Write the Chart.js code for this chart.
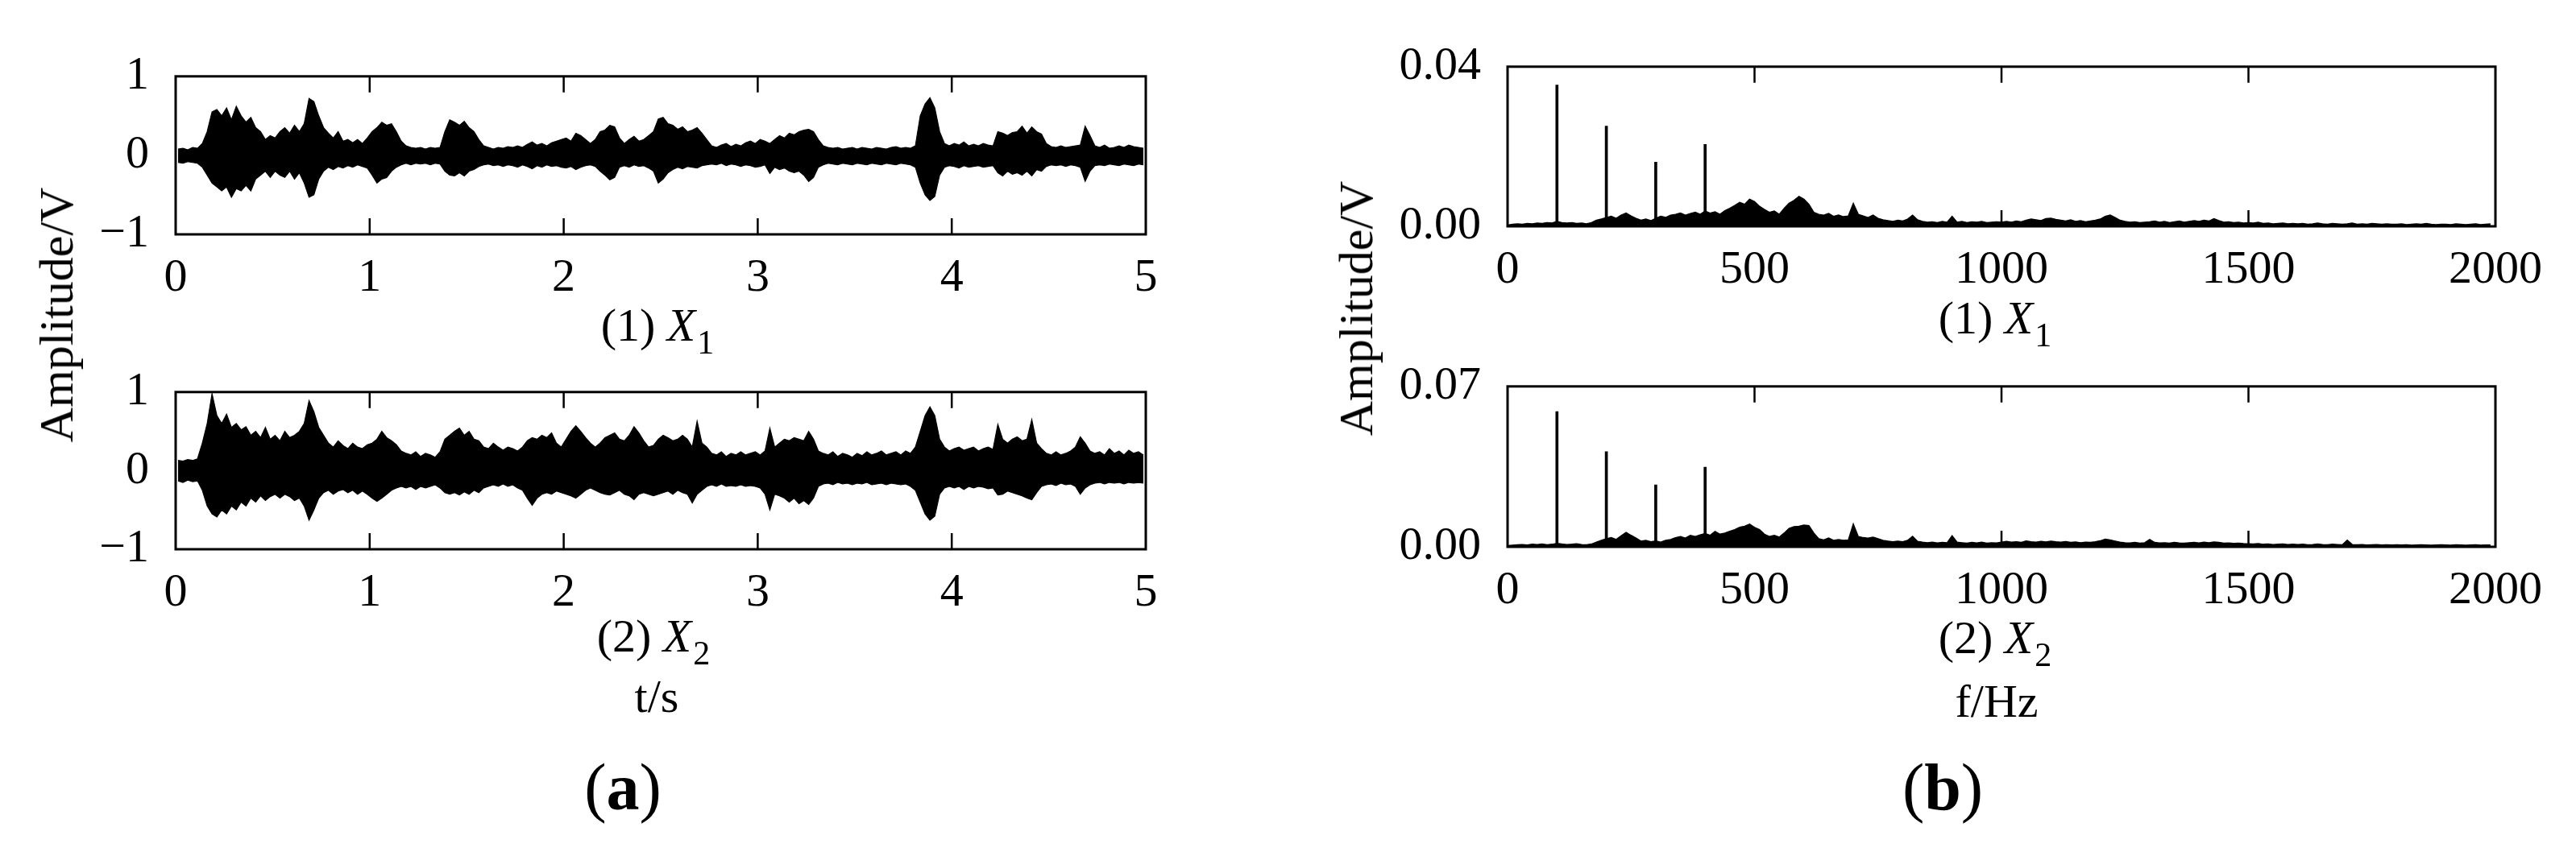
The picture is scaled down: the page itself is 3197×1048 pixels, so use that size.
<!DOCTYPE html>
<html>
<head>
<meta charset="utf-8">
<script src="https://cdn.jsdelivr.net/npm/chart.js@4.4.0/dist/chart.umd.min.js"></script>
<style>
body { margin: 0; background: #fff; width: 3197px; height: 1048px; overflow: hidden; position: relative; font-family: 'Liberation Serif', 'Times New Roman', serif; color: #000; }
canvas { position: absolute; }
.t { position: absolute; white-space: nowrap; font-size: 58px; line-height: 58px; height: 58px; transform: translate(-50%, -50%); }
.sub { font-size: 42px; position: relative; top: 16px; margin-left: 2px; }
.yl { position: absolute; white-space: nowrap; font-size: 60px; line-height: 60px; height: 60px; transform: translate(-50%, -50%) rotate(-90deg); }
.pl { position: absolute; white-space: nowrap; font-size: 82px; line-height: 82px; height: 82px; transform: translate(-50%, -50%); }
</style>
</head>
<body>
<canvas id="c1" width="1400" height="356" style="left:100px;top:35px"></canvas>
<canvas id="c2" width="1400" height="355" style="left:100px;top:427px"></canvas>
<canvas id="c3" width="1476" height="358" style="left:1711px;top:23px"></canvas>
<canvas id="c4" width="1476" height="359" style="left:1711px;top:420px"></canvas>

<div class="yl" style="left:70px;top:391px">Amplitude/V</div>
<div class="t" style="left:816px;top:404px">(1) <i>X</i><span class="sub">1</span></div>
<div class="t" style="left:811px;top:790px">(2) <i>X</i><span class="sub">2</span></div>
<div class="t" style="left:815px;top:865px">t/s</div>
<div class="pl" style="left:773px;top:978px">(<b>a</b>)</div>

<div class="yl" style="left:1683px;top:383px">Amplitude/V</div>
<div class="t" style="left:2476px;top:395px">(1) <i>X</i><span class="sub">1</span></div>
<div class="t" style="left:2476px;top:792px">(2) <i>X</i><span class="sub">2</span></div>
<div class="t" style="left:2478px;top:871px">f/Hz</div>
<div class="pl" style="left:2411px;top:978px">(<b>b</b>)</div>

<script>
// time signals, envelope read per 0.025 s
var timeStep = 0.025;
var timeTicks = [0, 1, 2, 3, 4, 5];
var ampTicks = [-1, 0, 1];

var x1Upper = [
  0.08,0.09,0.07,0.10,0.09,0.15,0.30,0.55,0.58,0.50,
  0.60,0.45,0.62,0.50,0.42,0.48,0.35,0.30,0.20,0.25,
  0.22,0.30,0.35,0.28,0.38,0.30,0.40,0.72,0.68,0.50,
  0.35,0.28,0.22,0.30,0.18,0.20,0.16,0.20,0.15,0.22,
  0.30,0.35,0.42,0.38,0.40,0.30,0.18,0.12,0.10,0.09,
  0.10,0.08,0.10,0.09,0.10,0.30,0.45,0.42,0.38,0.43,
  0.35,0.30,0.20,0.12,0.10,0.08,0.10,0.09,0.11,0.10,
  0.12,0.10,0.14,0.17,0.13,0.15,0.12,0.16,0.18,0.20,
  0.22,0.18,0.28,0.25,0.20,0.15,0.20,0.30,0.32,0.38,
  0.36,0.22,0.15,0.20,0.24,0.18,0.20,0.25,0.30,0.46,
  0.48,0.40,0.38,0.33,0.36,0.30,0.32,0.35,0.28,0.20,
  0.12,0.10,0.13,0.15,0.11,0.14,0.12,0.16,0.18,0.15,
  0.20,0.18,0.15,0.20,0.25,0.22,0.28,0.26,0.30,0.32,
  0.33,0.30,0.20,0.12,0.10,0.09,0.10,0.08,0.09,0.10,
  0.08,0.10,0.09,0.08,0.10,0.09,0.08,0.10,0.11,0.09,
  0.10,0.09,0.12,0.50,0.65,0.73,0.60,0.30,0.15,0.12,
  0.15,0.13,0.17,0.12,0.14,0.12,0.15,0.13,0.12,0.30,
  0.28,0.25,0.29,0.30,0.37,0.28,0.36,0.30,0.27,0.15,
  0.11,0.10,0.12,0.10,0.11,0.12,0.13,0.37,0.25,0.12,
  0.10,0.13,0.09,0.10,0.12,0.10,0.13,0.11,0.10,0.09
];
var x1Lower = [
  -0.09,-0.10,-0.08,-0.09,-0.10,-0.15,-0.25,-0.35,-0.40,-0.45,
  -0.40,-0.53,-0.42,-0.45,-0.38,-0.45,-0.30,-0.25,-0.20,-0.28,
  -0.20,-0.25,-0.28,-0.20,-0.30,-0.22,-0.35,-0.53,-0.50,-0.30,
  -0.20,-0.15,-0.18,-0.14,-0.16,-0.13,-0.15,-0.12,-0.14,-0.16,
  -0.25,-0.35,-0.30,-0.28,-0.20,-0.15,-0.12,-0.10,-0.12,-0.10,
  -0.11,-0.10,-0.12,-0.10,-0.11,-0.20,-0.25,-0.26,-0.22,-0.26,
  -0.20,-0.18,-0.14,-0.12,-0.11,-0.13,-0.12,-0.14,-0.12,-0.13,
  -0.15,-0.12,-0.14,-0.17,-0.13,-0.15,-0.12,-0.14,-0.13,-0.15,
  -0.16,-0.14,-0.18,-0.15,-0.13,-0.12,-0.14,-0.20,-0.25,-0.31,
  -0.28,-0.15,-0.13,-0.15,-0.12,-0.14,-0.13,-0.16,-0.20,-0.35,
  -0.30,-0.22,-0.18,-0.15,-0.17,-0.14,-0.15,-0.16,-0.13,-0.12,
  -0.11,-0.12,-0.10,-0.13,-0.11,-0.12,-0.14,-0.12,-0.13,-0.15,
  -0.14,-0.12,-0.23,-0.15,-0.18,-0.16,-0.20,-0.22,-0.20,-0.25,
  -0.33,-0.28,-0.15,-0.12,-0.10,-0.11,-0.12,-0.10,-0.11,-0.12,
  -0.10,-0.11,-0.12,-0.10,-0.11,-0.12,-0.10,-0.11,-0.12,-0.10,
  -0.11,-0.12,-0.15,-0.35,-0.50,-0.57,-0.52,-0.25,-0.15,-0.13,
  -0.14,-0.16,-0.13,-0.15,-0.14,-0.13,-0.15,-0.14,-0.13,-0.22,
  -0.26,-0.20,-0.24,-0.22,-0.25,-0.20,-0.26,-0.18,-0.20,-0.14,
  -0.12,-0.13,-0.12,-0.14,-0.12,-0.13,-0.15,-0.33,-0.20,-0.13,
  -0.12,-0.13,-0.11,-0.12,-0.13,-0.11,-0.12,-0.13,-0.11,-0.12
];
var x2Upper = [
  0.13,0.12,0.14,0.13,0.15,0.35,0.60,0.98,0.70,0.60,
  0.72,0.55,0.60,0.52,0.56,0.45,0.50,0.42,0.55,0.40,
  0.45,0.38,0.50,0.42,0.45,0.50,0.60,0.89,0.75,0.55,
  0.45,0.35,0.30,0.38,0.32,0.28,0.35,0.30,0.28,0.33,
  0.35,0.40,0.50,0.42,0.38,0.33,0.25,0.22,0.20,0.24,
  0.18,0.22,0.20,0.17,0.24,0.40,0.45,0.50,0.54,0.45,
  0.50,0.40,0.38,0.30,0.28,0.35,0.30,0.26,0.30,0.28,
  0.25,0.30,0.38,0.42,0.40,0.45,0.42,0.48,0.35,0.30,
  0.40,0.50,0.57,0.50,0.42,0.35,0.30,0.35,0.42,0.45,
  0.48,0.40,0.38,0.45,0.56,0.48,0.38,0.30,0.32,0.40,
  0.45,0.42,0.38,0.40,0.45,0.40,0.30,0.63,0.35,0.30,
  0.22,0.20,0.24,0.18,0.22,0.20,0.24,0.20,0.22,0.24,
  0.20,0.25,0.54,0.30,0.35,0.40,0.38,0.42,0.40,0.38,
  0.50,0.40,0.25,0.22,0.20,0.24,0.18,0.22,0.20,0.17,
  0.22,0.19,0.24,0.20,0.22,0.25,0.20,0.22,0.24,0.20,
  0.25,0.22,0.30,0.50,0.70,0.81,0.70,0.40,0.30,0.25,
  0.28,0.30,0.26,0.28,0.30,0.25,0.28,0.30,0.27,0.59,
  0.40,0.35,0.40,0.43,0.38,0.40,0.65,0.35,0.28,0.22,
  0.20,0.24,0.20,0.22,0.25,0.30,0.43,0.35,0.25,0.22,
  0.24,0.20,0.28,0.22,0.25,0.20,0.26,0.22,0.24,0.20
];
var x2Lower = [
  -0.13,-0.15,-0.12,-0.14,-0.13,-0.25,-0.45,-0.55,-0.59,-0.50,
  -0.55,-0.45,-0.50,-0.40,-0.45,-0.35,-0.40,-0.32,-0.38,-0.33,
  -0.30,-0.35,-0.30,-0.33,-0.38,-0.35,-0.45,-0.63,-0.50,-0.35,
  -0.28,-0.25,-0.30,-0.26,-0.24,-0.28,-0.25,-0.30,-0.26,-0.30,
  -0.35,-0.39,-0.35,-0.30,-0.25,-0.22,-0.20,-0.22,-0.20,-0.24,
  -0.20,-0.22,-0.20,-0.18,-0.22,-0.28,-0.30,-0.28,-0.31,-0.27,
  -0.30,-0.25,-0.28,-0.22,-0.20,-0.18,-0.20,-0.17,-0.20,-0.18,
  -0.22,-0.25,-0.35,-0.44,-0.35,-0.30,-0.28,-0.30,-0.26,-0.28,
  -0.30,-0.32,-0.35,-0.30,-0.25,-0.22,-0.25,-0.28,-0.30,-0.31,
  -0.28,-0.25,-0.30,-0.32,-0.37,-0.30,-0.28,-0.30,-0.32,-0.30,
  -0.28,-0.26,-0.30,-0.25,-0.28,-0.30,-0.41,-0.30,-0.25,-0.20,
  -0.18,-0.20,-0.17,-0.20,-0.19,-0.20,-0.18,-0.20,-0.19,-0.20,
  -0.22,-0.30,-0.50,-0.30,-0.32,-0.35,-0.40,-0.35,-0.42,-0.38,
  -0.43,-0.35,-0.20,-0.17,-0.16,-0.18,-0.15,-0.17,-0.16,-0.18,
  -0.16,-0.17,-0.15,-0.18,-0.17,-0.16,-0.18,-0.16,-0.17,-0.18,
  -0.17,-0.20,-0.25,-0.40,-0.55,-0.63,-0.58,-0.30,-0.22,-0.20,
  -0.22,-0.20,-0.24,-0.20,-0.22,-0.20,-0.21,-0.23,-0.22,-0.31,
  -0.30,-0.26,-0.28,-0.30,-0.32,-0.35,-0.37,-0.28,-0.20,-0.18,
  -0.17,-0.19,-0.16,-0.18,-0.17,-0.20,-0.30,-0.22,-0.18,-0.16,
  -0.15,-0.17,-0.15,-0.16,-0.15,-0.17,-0.15,-0.16,-0.15,-0.16
];

// spectra, read per 10 Hz, in mV
var freqStep = 10;
var freqTicks = [0, 500, 1000, 1500, 2000];
var spec1Ticks = [0, 0.04];
var spec2Ticks = [0, 0.07];

var x1SpecMv = [
  0.3,0.5,0.6,0.5,0.7,0.6,0.8,0.7,0.9,0.8,
  1.2,0.9,0.8,0.9,0.7,0.8,0.6,0.9,1.5,1.8,
  2.2,2.5,2.0,2.8,3.3,2.6,2.0,1.5,1.8,1.4,
  2.0,2.5,2.2,2.8,3.0,3.3,2.8,3.2,3.5,3.0,
  3.8,3.3,3.6,3.0,3.9,4.5,5.2,6.0,5.5,6.8,
  6.2,5.0,4.2,3.5,3.8,3.0,4.5,5.8,6.5,7.5,
  6.8,5.5,3.5,3.0,2.8,3.2,2.5,2.8,2.4,2.6,
  5.7,3.0,2.6,2.2,2.8,2.0,1.6,1.4,1.2,1.5,
  1.3,1.8,2.8,1.6,1.2,1.0,1.1,0.9,1.2,1.0,
  2.5,1.0,1.2,0.9,1.1,1.0,1.2,0.9,1.0,1.1,
  1.0,1.2,1.0,1.3,1.1,1.5,1.8,1.6,1.4,1.9,
  2.0,1.7,1.5,1.3,1.6,1.2,1.4,1.1,1.3,1.5,
  1.8,2.5,2.8,2.2,1.5,1.2,1.0,1.1,0.9,1.0,
  1.1,1.3,1.0,1.2,0.9,1.1,1.3,1.0,1.2,1.4,
  1.2,1.5,1.3,1.9,1.4,1.0,1.1,0.9,1.0,0.8,
  0.9,0.8,1.0,0.7,0.8,0.6,0.7,0.8,0.6,0.7,
  0.6,0.7,0.5,0.6,0.8,0.6,0.5,0.7,0.6,0.5,
  0.6,0.8,0.5,0.6,0.5,0.7,0.6,0.5,0.6,0.5,
  0.5,0.6,0.4,0.5,0.6,0.5,0.7,0.5,0.4,0.5,
  0.5,0.4,0.6,0.5,0.4,0.5,0.6,0.4,0.5,0.6
];
var x2SpecMv = [
  0.5,0.7,0.9,1.0,0.8,1.1,1.0,1.2,0.9,1.1,
  1.5,1.2,1.0,1.1,1.3,1.0,0.9,1.2,2.0,2.8,
  3.5,4.0,3.2,4.8,6.3,5.0,3.8,2.5,2.8,2.2,
  2.5,2.0,2.8,3.2,4.0,4.5,3.8,5.0,4.5,5.2,
  5.8,5.0,6.7,5.5,6.0,6.8,7.5,8.5,9.0,9.9,
  8.5,7.5,5.5,4.5,5.0,4.2,6.0,8.0,8.8,9.0,
  9.5,9.2,6.0,3.5,3.0,3.8,2.8,3.2,2.8,3.0,
  9.9,4.5,4.0,3.8,4.2,3.5,2.8,2.5,2.2,2.5,
  2.2,2.8,4.6,2.4,2.0,1.8,2.0,1.7,1.9,1.8,
  4.8,2.0,1.8,1.6,1.9,1.7,2.0,1.6,1.8,1.7,
  2.0,2.4,2.0,2.2,1.9,2.5,2.2,2.0,2.4,2.1,
  2.5,2.2,2.0,2.3,1.9,2.1,1.8,2.0,1.9,2.2,
  2.6,3.3,3.0,2.5,2.0,1.8,1.7,1.9,1.6,1.8,
  3.2,1.9,1.7,1.8,1.6,1.9,1.7,1.6,1.8,1.9,
  1.7,2.0,1.8,2.1,1.9,1.6,1.7,1.5,1.6,1.4,
  1.3,1.2,1.4,1.1,1.2,1.0,1.1,1.2,1.0,1.1,
  1.0,1.1,0.9,1.0,1.2,1.0,0.9,1.1,1.0,0.9,
  2.9,1.0,0.9,1.0,0.8,0.9,1.0,0.8,0.9,0.8,
  0.9,0.8,0.9,0.7,0.8,0.9,0.8,0.7,0.8,0.9,
  0.8,0.7,0.9,0.8,0.7,0.8,0.9,0.7,0.8,0.8
];
var harmonicFreqs = [100, 200, 300, 400];
var x1Harmonics = [0.0354, 0.0251, 0.0161, 0.0205];
var x2Harmonics = [0.0590, 0.0415, 0.0270, 0.0348];

Chart.defaults.font.family = "'Liberation Serif', 'Times New Roman', serif";
Chart.defaults.color = '#000';

function timePoints(values) {
  return values.map(function(v, i) {
    return {x: (i + 0.5) * timeStep, y: v};
  });
}

function spectrum(valuesMv) {
  return valuesMv.map(function(v, i) {
    return {x: i * freqStep, y: v / 1000};
  });
}

function harmonics(amps) {
  return harmonicFreqs.map(function(f, k) {
    return {x: f, y: amps[k]};
  });
}

// box round the plot and inward x ticks on top and bottom
var framePlugin = {
  id: 'frame',
  afterDatasetsDraw: function(chart) {
    var a = chart.chartArea;
    var ctx = chart.ctx;
    var xs = chart.scales.x;
    ctx.save();
    ctx.strokeStyle = '#000';
    ctx.lineWidth = 2.5;
    xs.ticks.forEach(function(t, k) {
      if (k === 0 || k === xs.ticks.length - 1) return;
      var px = xs.getPixelForValue(t.value);
      ctx.beginPath();
      ctx.moveTo(px, a.top);
      ctx.lineTo(px, a.top + 20);
      ctx.moveTo(px, a.bottom);
      ctx.lineTo(px, a.bottom - 20);
      ctx.stroke();
    });
    ctx.lineWidth = 3;
    ctx.strokeRect(a.left, a.top, a.right - a.left, a.bottom - a.top);
    ctx.restore();
  }
};

function makeChart(id, datasets, xMax, xTicks, yMin, yMax, yTicks, yFormat, yWidth, padRight) {
  var ctx = document.getElementById(id).getContext('2d');
  return new Chart(ctx, {
    type: 'line',
    data: { datasets: datasets },
    options: {
      animation: false,
      responsive: false,
      events: [],
      layout: { padding: { top: 45, right: padRight, bottom: 0, left: 0 } },
      plugins: { legend: { display: false }, tooltip: { enabled: false } },
      scales: {
        x: {
          type: 'linear',
          min: 0,
          max: xMax,
          offset: false,
          grid: { display: false },
          border: { display: false },
          afterBuildTicks: function(s) { s.ticks = xTicks.map(function(v) { return {value: v}; }); },
          afterFit: function(s) { s.height = 100; },
          ticks: {
            font: { size: 58 },
            padding: 12,
            maxRotation: 0,
            autoSkip: false,
            callback: function(v) { return String(v); }
          }
        },
        y: {
          min: yMin,
          max: yMax,
          grid: { display: false },
          border: { display: false },
          afterBuildTicks: function(s) { s.ticks = yTicks.map(function(v) { return {value: v}; }); },
          afterFit: function(s) { s.width = yWidth; },
          ticks: {
            font: { size: 58 },
            padding: 25,
            callback: yFormat
          }
        }
      }
    },
    plugins: [framePlugin]
  });
}

// upper envelope filled down to the lower envelope
function timeBand(upper, lower) {
  return [
    {
      type: 'line',
      data: timePoints(upper),
      borderColor: '#000',
      backgroundColor: '#000',
      borderWidth: 1.2,
      pointRadius: 0,
      tension: 0,
      fill: '+1'
    },
    {
      type: 'line',
      data: timePoints(lower),
      borderColor: '#000',
      borderWidth: 1.2,
      pointRadius: 0,
      tension: 0,
      fill: false
    }
  ];
}

function specLine(valuesMv) {
  return {
    type: 'line',
    data: spectrum(valuesMv),
    borderColor: '#000',
    backgroundColor: '#000',
    borderWidth: 1.5,
    pointRadius: 0,
    tension: 0,
    fill: 'origin'
  };
}

function spikeBars(amps) {
  return {
    type: 'bar',
    data: harmonics(amps),
    backgroundColor: '#000',
    borderWidth: 0,
    barThickness: 3
  };
}

function ampLabel(v) {
  return v < 0 ? '\u2212' + Math.abs(v) : String(v);
}
function specLabel(v) {
  return v.toFixed(2);
}

makeChart('c1', timeBand(x1Upper, x1Lower), 5, timeTicks, -1, 1, ampTicks, ampLabel, 118, 78);
makeChart('c2', timeBand(x2Upper, x2Lower), 5, timeTicks, -1, 1, ampTicks, ampLabel, 118, 78);
makeChart('c3', [specLine(x1SpecMv), spikeBars(x1Harmonics)], 2000, freqTicks, 0, 0.04, spec1Ticks, specLabel, 160, 90);
makeChart('c4', [specLine(x2SpecMv), spikeBars(x2Harmonics)], 2000, freqTicks, 0, 0.07, spec2Ticks, specLabel, 160, 90);
</script>
</body>
</html>
